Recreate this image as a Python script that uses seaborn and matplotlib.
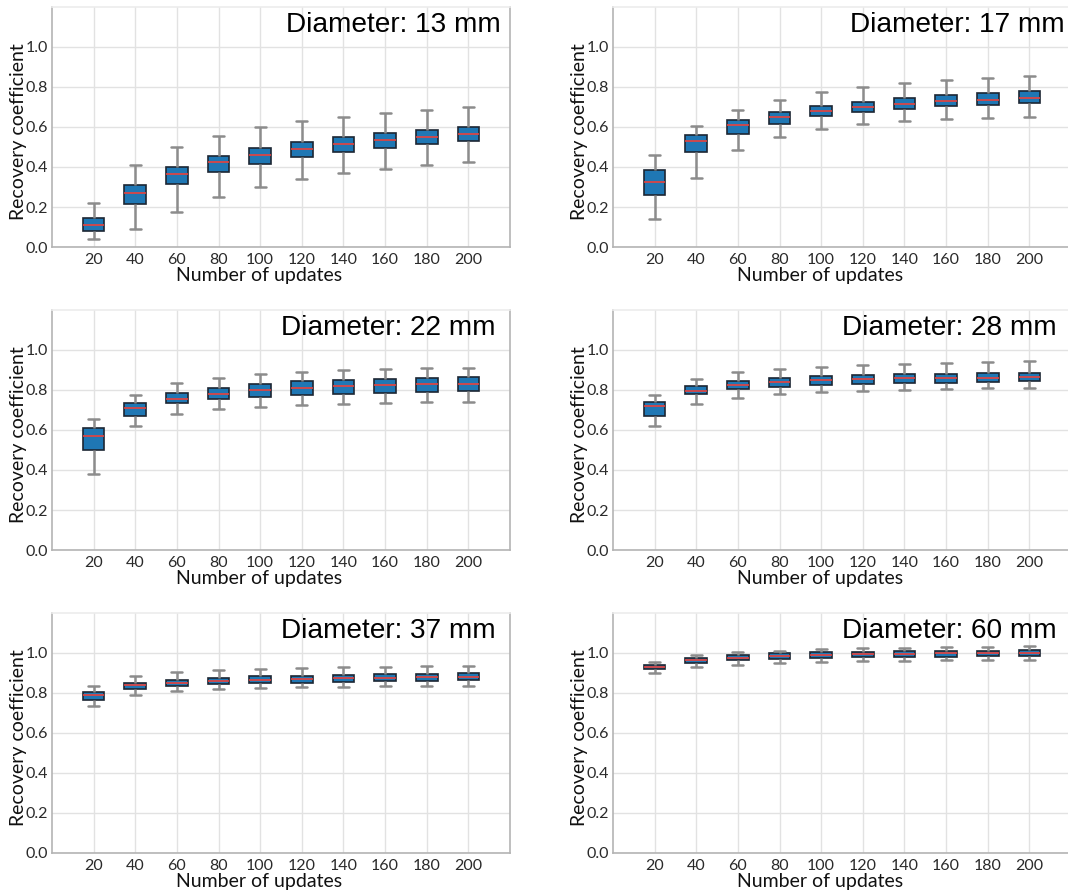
import numpy as np
import pandas as pd
import matplotlib
matplotlib.use('Agg')
import matplotlib.pyplot as plt
import seaborn as sns

updates = [20, 40, 60, 80, 100, 120, 140, 160, 180, 200]
diameters = [13, 17, 22, 28, 37, 60]

# whisker low, Q1, median, Q3, whisker high per update count
lo_13 = [0.040, 0.090, 0.177, 0.248, 0.300, 0.338, 0.368, 0.390, 0.410, 0.427]
q1_13 = [0.078, 0.215, 0.317, 0.377, 0.417, 0.450, 0.475, 0.497, 0.515, 0.530]
med_13 = [0.112, 0.270, 0.365, 0.423, 0.462, 0.492, 0.517, 0.535, 0.552, 0.565]
q3_13 = [0.147, 0.312, 0.398, 0.455, 0.495, 0.525, 0.550, 0.568, 0.585, 0.600]
hi_13 = [0.220, 0.408, 0.500, 0.557, 0.598, 0.628, 0.652, 0.670, 0.687, 0.698]

lo_17 = [0.138, 0.347, 0.485, 0.552, 0.588, 0.615, 0.632, 0.640, 0.647, 0.652]
q1_17 = [0.258, 0.473, 0.567, 0.617, 0.653, 0.673, 0.688, 0.703, 0.710, 0.718]
med_17 = [0.327, 0.528, 0.608, 0.652, 0.680, 0.700, 0.715, 0.728, 0.737, 0.745]
q3_17 = [0.385, 0.562, 0.633, 0.673, 0.703, 0.725, 0.743, 0.760, 0.770, 0.782]
hi_17 = [0.462, 0.605, 0.685, 0.737, 0.773, 0.798, 0.818, 0.833, 0.845, 0.855]

lo_22 = [0.382, 0.622, 0.680, 0.703, 0.715, 0.723, 0.730, 0.735, 0.738, 0.740]
q1_22 = [0.502, 0.672, 0.733, 0.755, 0.765, 0.773, 0.780, 0.785, 0.792, 0.793]
med_22 = [0.572, 0.708, 0.753, 0.780, 0.798, 0.808, 0.818, 0.823, 0.828, 0.832]
q3_22 = [0.610, 0.733, 0.785, 0.812, 0.832, 0.843, 0.850, 0.855, 0.860, 0.865]
hi_22 = [0.657, 0.777, 0.833, 0.862, 0.878, 0.890, 0.898, 0.903, 0.908, 0.912]

lo_28 = [0.620, 0.732, 0.762, 0.778, 0.788, 0.797, 0.802, 0.805, 0.808, 0.810]
q1_28 = [0.668, 0.778, 0.803, 0.815, 0.823, 0.828, 0.833, 0.837, 0.840, 0.843]
med_28 = [0.720, 0.797, 0.827, 0.840, 0.848, 0.853, 0.858, 0.860, 0.862, 0.865]
q3_28 = [0.738, 0.822, 0.847, 0.858, 0.868, 0.875, 0.878, 0.882, 0.883, 0.887]
hi_28 = [0.773, 0.857, 0.890, 0.905, 0.917, 0.925, 0.932, 0.937, 0.940, 0.943]

lo_37 = [0.737, 0.792, 0.812, 0.820, 0.825, 0.828, 0.832, 0.833, 0.835, 0.837]
q1_37 = [0.763, 0.820, 0.835, 0.843, 0.848, 0.852, 0.855, 0.858, 0.860, 0.863]
med_37 = [0.788, 0.838, 0.852, 0.860, 0.867, 0.870, 0.873, 0.877, 0.880, 0.882]
q3_37 = [0.803, 0.850, 0.867, 0.877, 0.883, 0.887, 0.890, 0.893, 0.897, 0.900]
hi_37 = [0.835, 0.883, 0.905, 0.913, 0.920, 0.925, 0.928, 0.932, 0.933, 0.935]

lo_60 = [0.902, 0.930, 0.942, 0.950, 0.955, 0.958, 0.960, 0.963, 0.965, 0.965]
q1_60 = [0.922, 0.952, 0.963, 0.970, 0.975, 0.978, 0.980, 0.982, 0.983, 0.985]
med_60 = [0.932, 0.963, 0.975, 0.983, 0.990, 0.993, 0.997, 0.998, 1.000, 1.002]
q3_60 = [0.942, 0.975, 0.988, 0.998, 1.003, 1.005, 1.008, 1.010, 1.012, 1.013]
hi_60 = [0.957, 0.988, 1.003, 1.012, 1.020, 1.023, 1.027, 1.030, 1.032, 1.033]

summaries = {
    13: [lo_13, q1_13, med_13, q3_13, hi_13],
    17: [lo_17, q1_17, med_17, q3_17, hi_17],
    22: [lo_22, q1_22, med_22, q3_22, hi_22],
    28: [lo_28, q1_28, med_28, q3_28, hi_28],
    37: [lo_37, q1_37, med_37, q3_37, hi_37],
    60: [lo_60, q1_60, med_60, q3_60, hi_60],
}

# five points per box -> quartiles land exactly on them, whiskers go to min/max
rows = []
for d, parts in summaries.items():
    for stat in parts:
        for u, v in zip(updates, stat):
            rows.append({'diameter': d, 'updates': u, 'rc': v})
df = pd.DataFrame(rows)

sns.set_theme(style='whitegrid')
plt.rcParams['font.family'] = ['Lato', 'DejaVu Sans']

W, H = 1068, 893
fig = plt.figure(figsize=(W / 100, H / 100), dpi=100)
lefts = [52, 613]
tops = [7, 310, 613]
# left edge of the "Diameter" text, as a fraction of the panel width
title_x = [0.512, 0.518, 0.499, 0.501, 0.499, 0.501]

for i, d in enumerate(diameters):
    r, c = divmod(i, 2)
    ax = fig.add_axes([lefts[c] / W, 1 - (tops[r] + 240) / H, 458 / W, 240 / H])
    sns.boxplot(data=df[df.diameter == d], x='updates', y='rc', ax=ax,
                whis=np.inf, width=0.52, color='#1f77b4', saturation=1,
                linecolor='#1c2633', linewidth=1.2,
                medianprops=dict(color='#e8413c', linewidth=1.2),
                whiskerprops=dict(color='#8c8c8c', linewidth=1.8),
                capprops=dict(color='#8c8c8c', linewidth=1.8))
    ax.set_xlim(-1, 10)
    ax.set_ylim(0, 1.2)
    ax.set_yticks([0, 0.2, 0.4, 0.6, 0.8, 1.0])
    ax.set_yticklabels(['0.0', '0.2', '0.4', '0.6', '0.8', '1.0'])
    ax.grid(True, axis='both', color='#e2e2e2', linewidth=1.0)
    ax.set_axisbelow(True)
    for s in ax.spines.values():
        s.set_color('#b4b4b4')
        s.set_linewidth(1.2)
    ax.spines['top'].set_color('#ececec')
    ax.tick_params(axis='both', labelsize=11.5, colors='#2a2a2a', length=0)
    ax.tick_params(axis='y', pad=3)
    ax.tick_params(axis='x', pad=4)
    ax.set_xlabel('Number of updates', fontsize=14, color='#111111')
    ax.set_ylabel('Recovery coefficient', fontsize=14, color='#111111')
    ax.xaxis.set_label_coords(0.452, -0.084)
    ax.yaxis.set_label_coords(-0.055, 0.481)
    ax.text(title_x[i], 0.896, f'Diameter: {d} mm', transform=ax.transAxes,
            ha='left', va='baseline', fontsize=20.2,
            family='Liberation Sans', color='#000000')

fig.savefig('out.png', dpi=100)
